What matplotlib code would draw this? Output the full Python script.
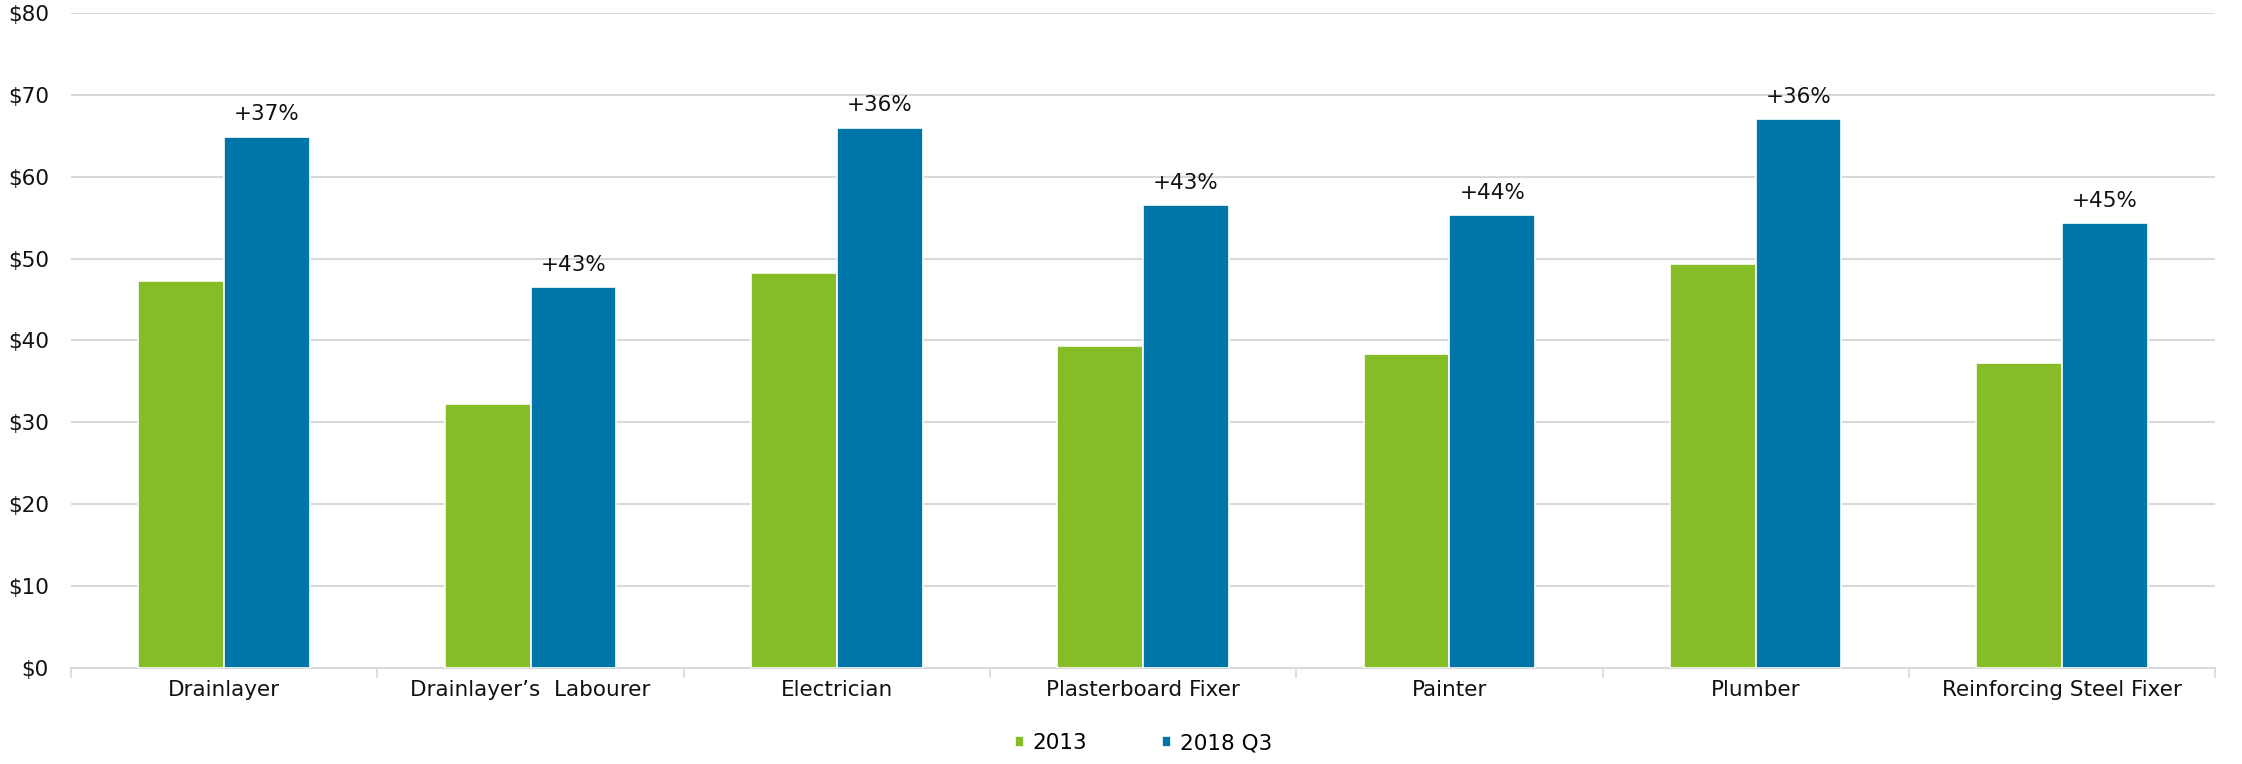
import numpy as np
import matplotlib.pyplot as plt

categories = ["Drainlayer", "Drainlayer\u2019s  Labourer", "Electrician",
              "Plasterboard Fixer", "Painter", "Plumber", "Reinforcing Steel Fixer"]
wage_2013 = [47.3, 32.3, 48.3, 39.3, 38.3, 49.4, 37.3]
wage_2018q3 = [64.9, 46.5, 66.0, 56.5, 55.3, 67.0, 54.3]
growth_labels = ["+37%", "+43%", "+36%", "+43%", "+44%", "+36%", "+45%"]

green = '#86BC25'
blue = '#0076A8'
grid_grey = '#d9d9d9'
fs = 15.5

plt.rcParams['font.family'] = ['DejaVu Sans']
fig = plt.figure(figsize=(22.42, 7.64), dpi=100)
ax = fig.add_axes([0.0317, 0.1257, 0.9563, 0.8573])

x = np.arange(len(categories))
w = 0.28
ax.bar(x - w / 2, wage_2013, width=w, color=green, edgecolor='white',
       linewidth=1.2, label='2013', zorder=3)
bars = ax.bar(x + w / 2, wage_2018q3, width=w, color=blue, edgecolor='white',
              linewidth=1.2, label='2018 Q3', zorder=3)

for rect, txt in zip(bars, growth_labels):
    ax.annotate(txt, (rect.get_x() + rect.get_width() / 2, rect.get_height()),
                xytext=(0, 9), textcoords='offset points',
                ha='center', va='bottom', fontsize=fs, color='#111111')

ax.set_xlim(-0.5, len(categories) - 0.5)
ax.set_ylim(0, 80)
ax.set_yticks(np.arange(0, 81, 10))
ax.set_yticklabels([f'${v}' for v in range(0, 81, 10)], fontsize=fs, color='#111111')
ax.yaxis.grid(True, color=grid_grey, linewidth=1.5, zorder=0)
ax.set_axisbelow(True)

# category labels at centres, tick marks at boundaries
ax.set_xticks(x)
ax.set_xticklabels(categories, fontsize=fs, color='#111111')
ax.tick_params(axis='x', which='major', length=0, pad=9)
ax.set_xticks(np.arange(-0.5, len(categories), 1), minor=True)
ax.tick_params(axis='x', which='minor', length=7, width=1.2, color=grid_grey)
ax.tick_params(axis='y', length=0, pad=16)

for side in ['top', 'right', 'left']:
    ax.spines[side].set_visible(False)
ax.spines['bottom'].set_color(grid_grey)
ax.spines['bottom'].set_linewidth(1.5)

handles, labels = ax.get_legend_handles_labels()
fig.legend(handles, labels, loc='center', bbox_to_anchor=(0.51, 0.027), ncol=2,
           frameon=False, fontsize=fs, handlelength=0.4, handleheight=0.4,
           handletextpad=0.4, columnspacing=3.5)

fig.savefig('out.png', dpi=100)
